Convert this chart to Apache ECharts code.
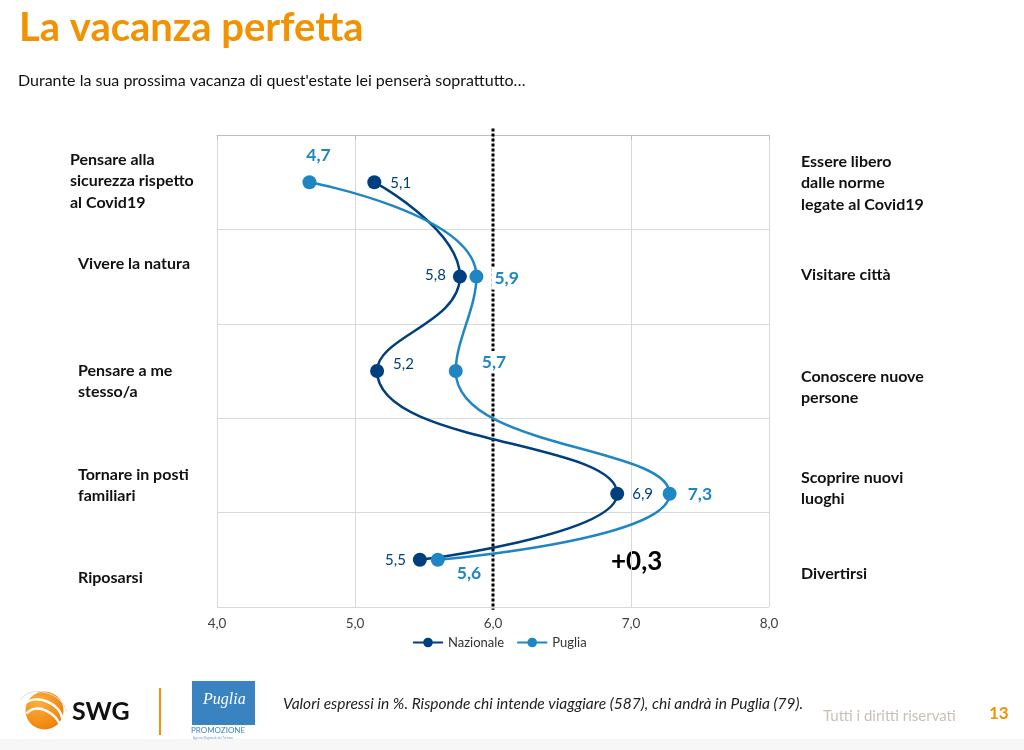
<!DOCTYPE html>
<html>
<head>
<meta charset="utf-8">
<script src="https://cdn.jsdelivr.net/npm/echarts@6/dist/echarts.min.js"></script>
<style>
html,body{margin:0;padding:0;background:#fff;}
#chart{width:1024px;height:750px;}
</style>
</head>
<body>
<div id="chart"></div>
<script>
// ---- Data ----
const leftLabels = [
  "Pensare alla\nsicurezza rispetto\nal Covid19",
  "Vivere la natura",
  "Pensare a me\nstesso/a",
  "Tornare in posti\nfamiliari",
  "Riposarsi"
];
const rightLabels = [
  "Essere libero\ndalle norme\nlegate al Covid19",
  "Visitare città",
  "Conoscere nuove\npersone",
  "Scoprire nuovi\nluoghi",
  "Divertirsi"
];
const seriesNames = ["Nazionale", "Puglia"];
// values as plotted (labels show them rounded to one decimal)
const nazionale = [5.14, 5.76, 5.16, 6.90, 5.47];
const puglia = [4.67, 5.88, 5.73, 7.28, 5.60];
const rowPos = [0.5, 1.5, 2.5, 3.8, 4.5];
const xTicks = [4, 5, 6, 7, 8];
const midValue = 6.0;
const midSpan = [-0.07, 5.03];
const deltaLabel = "+0,3";
const title = "La vacanza perfetta";
const subtitle = "Durante la sua prossima vacanza di quest'estate lei penserà soprattutto…";
const note = "Valori espressi in %. Risponde chi intende viaggiare (587), chi andrà in Puglia (79).";
const rights = "Tutti i diritti riservati";
const pageNo = "13";

// ---- Styles ----
const FONT = "Lato, 'Open Sans', sans-serif";
const C_NAZ = "#003f7f";
const C_PUG = "#1f86c3";
const ORANGE = "#f39200";

const fmt = v => v.toFixed(1).replace(".", ",");

const nazLabelPos = [
  {position:"right", offset:[3,1]},
  {position:"left", offset:[-1,-1]},
  {position:"right", offset:[3,-7]},
  {position:"right", offset:[2,0]},
  {position:"left", offset:[-1,0]}
];
const pugLabelPos = [
  {position:"top", offset:[9,-3]},
  {position:"right", offset:[2,2]},
  {position:"right", offset:[10,-9]},
  {position:"right", offset:[2,1]},
  {position:"right", offset:[3,14]}
];

function buildData(vals, posCfg) {
  return vals.map((v, i) => ({
    value: [v, rowPos[i]],
    label: posCfg[i]
  }));
}

const chart = echarts.init(document.getElementById("chart"), null, {renderer: "canvas"});

function textEl(x, y, text, style) {
  return {type:"text", left:x, top:y, silent:true, style:Object.assign({text:text, font:"bold 16px " + FONT, fill:"#111", lineHeight:21.5}, style)};
}

const graphics = [];
// Title & subtitle
graphics.push(textEl(19, 4, title, {font:"bold 40px " + FONT, fill:ORANGE, lineHeight:48}));
graphics.push(textEl(18, 70, subtitle, {font:"16px " + FONT, fill:"#111", lineHeight:21}));
// Category labels
const leftTops = [149, 253, 360, 464, 567];
const leftXs = [70, 78, 78, 78, 78];
leftLabels.forEach((t, i) => graphics.push(textEl(leftXs[i], leftTops[i], t, {})));
const rightTops = [151, 264, 366, 467, 563];
rightLabels.forEach((t, i) => graphics.push(textEl(801, rightTops[i], t, {})));
// Delta label
graphics.push(textEl(611, 547, deltaLabel, {font:"bold 26px " + FONT, fill:"#000", lineHeight:30}));
// Footer background
graphics.push({type:"rect", left:0, top:739, silent:true, z:-1, shape:{width:1024, height:11}, style:{fill:"#f7f7f7"}});
// SWG logo
graphics.push({type:"group", left:18, top:689, silent:true, children:[
  {type:"circle", shape:{cx:22, cy:21, r:19}, style:{fill:new echarts.graphic.RadialGradient(0.35,0.3,0.8,[{offset:0,color:"#fbb040"},{offset:1,color:"#f07c00"}])}},
  {type:"bezierCurve", shape:{x1:2, y1:14, x2:40, y2:30, cpx1:15, cpy1:4, cpx2:38, cpy2:14}, style:{stroke:"#fff", lineWidth:2.5, fill:null}},
  {type:"bezierCurve", shape:{x1:4, y1:24, x2:38, y2:38, cpx1:14, cpy1:12, cpx2:36, cpy2:24}, style:{stroke:"#fff", lineWidth:2.5, fill:null}},
  {type:"bezierCurve", shape:{x1:-2, y1:10, x2:44, y2:22, cpx1:10, cpy1:-6, cpx2:40, cpy2:4}, style:{stroke:"#ddd", lineWidth:1, fill:null}}
]});
graphics.push(textEl(72, 697, "SWG", {font:"bold 25px " + FONT, fill:"#111", lineHeight:30}));
graphics.push({type:"rect", left:159, top:688, silent:true, shape:{width:2, height:47}, style:{fill:ORANGE}});
// Puglia Promozione logo
graphics.push({type:"rect", left:192, top:681, silent:true, shape:{width:63, height:44}, style:{fill:"#3a83c1"}});
graphics.push(textEl(203, 690, "Puglia", {font:"italic 16px 'Liberation Serif', serif", fill:"#fff", lineHeight:20}));
graphics.push(textEl(191, 726, "PROMOZIONE", {font:"8px " + FONT, fill:"#3a83c1", lineHeight:9}));
graphics.push(textEl(193, 736, "Agenzia Regionale del Turismo", {font:"3px " + FONT, fill:"#7a9cc0", lineHeight:4}));
// Note & footer texts
graphics.push(textEl(283, 693, note, {font:"italic 15.5px " + FONT, fill:"#222", lineHeight:21}));
graphics.push(textEl(823, 706, rights, {font:"15px " + FONT, fill:"#c8bfb8", lineHeight:20}));
graphics.push(textEl(989, 703, pageNo, {font:"bold 17px " + FONT, fill:ORANGE, lineHeight:21}));

const option = {
  backgroundColor: "#fff",
  animation: false,
  textStyle: {fontFamily: FONT},
  grid: {left:217, right:255, top:135, bottom:143, containLabel:false},
  legend: {
    top: 631, left: 407,
    itemWidth: 30, itemHeight: 12, itemGap: 12,
    textStyle: {fontSize: 13, color: "#333", fontFamily: FONT},
    data: seriesNames
  },
  xAxis: {
    type: "value", min: xTicks[0], max: xTicks[xTicks.length-1], interval: 1,
    axisLine: {show:true, lineStyle:{color:"#bfbfbf"}},
    axisTick: {show:true, length:5, lineStyle:{color:"#bfbfbf"}},
    axisLabel: {formatter: v => fmt(v), color:"#404040", fontSize:13.5, margin:10, fontFamily:FONT},
    splitLine: {show:true, lineStyle:{color:"#d9d9d9"}}
  },
  yAxis: {
    type: "value", min: 0, max: 5, interval: 1, inverse: true,
    axisLine: {show:false}, axisTick: {show:false}, axisLabel: {show:false},
    splitLine: {show:true, lineStyle:{color:"#d9d9d9"}}
  },
  graphic: graphics,
  series: [
    {
      name: "midline", type: "line", clip: false, silent: true,
      data: midSpan.map(y => [midValue, y]),
      symbol: "none",
      lineStyle: {color: "#000", width: 3, type: [3, 2]},
      z: 2
    },
    {
      name: seriesNames[0], type: "line", smooth: 0.5, clip: false,
      data: buildData(nazionale, nazLabelPos),
      symbol: "circle", symbolSize: 14,
      lineStyle: {color: C_NAZ, width: 2.5},
      itemStyle: {color: C_NAZ},
      z: 3,
      label: {show: true, distance: 6, formatter: p => fmt(p.value[0]), color: C_NAZ, fontSize: 15, fontFamily: FONT}
    },
    {
      name: seriesNames[1], type: "line", smooth: 0.5, clip: false,
      data: buildData(puglia, pugLabelPos),
      symbol: "circle", symbolSize: 14,
      lineStyle: {color: C_PUG, width: 2.5},
      itemStyle: {color: C_PUG},
      z: 4,
      label: {show: true, distance: 6, formatter: p => fmt(p.value[0]), color: C_PUG, fontSize: 17.5, fontWeight: "bold", fontFamily: FONT,
        backgroundColor: "#fff", padding: [2, 3]}
    }
  ]
};
chart.setOption(option);
</script>
</body>
</html>
